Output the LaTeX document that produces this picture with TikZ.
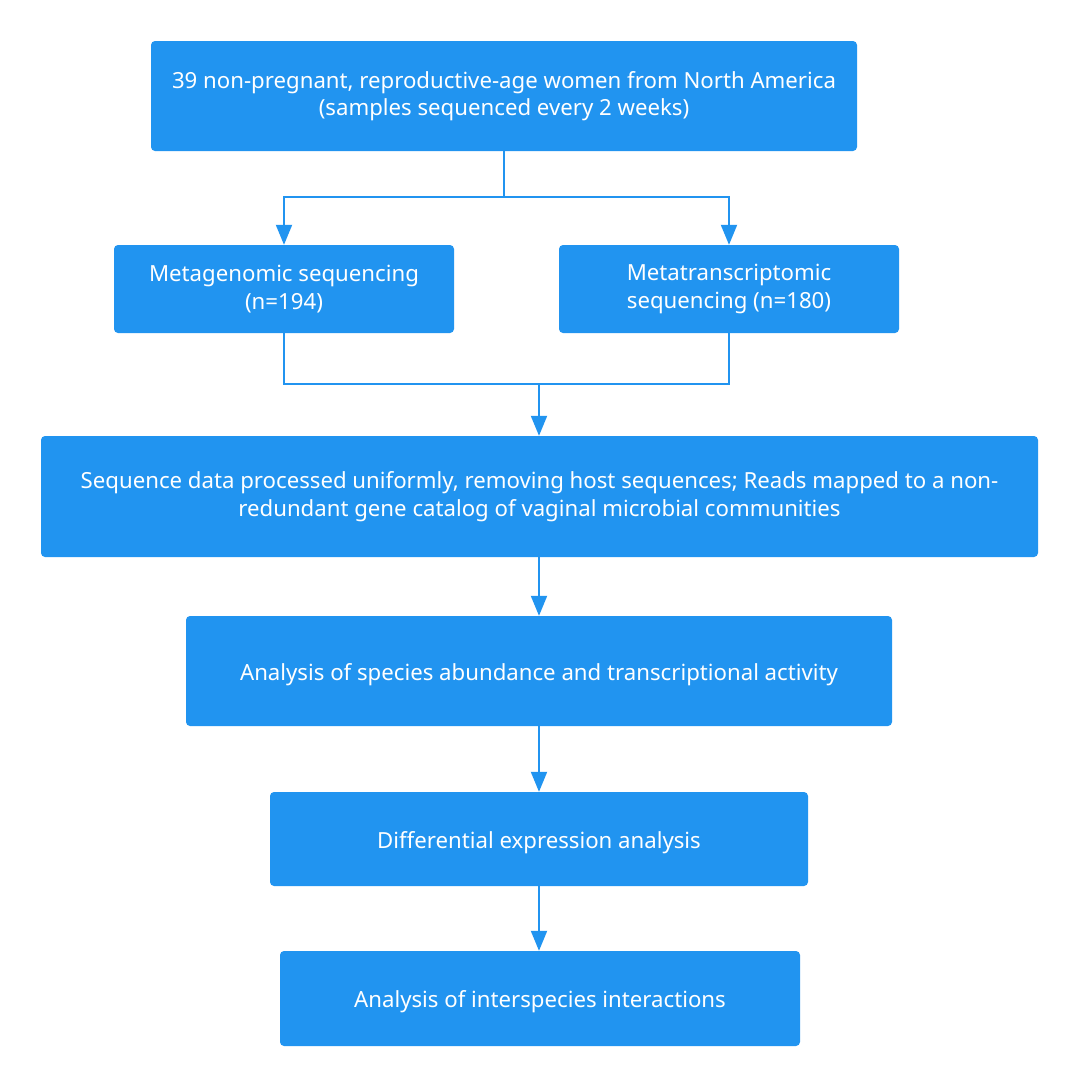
\documentclass[tikz,border=0pt]{standalone}
\usepackage{fontspec}
\setmainfont{Noto Sans}
\usetikzlibrary{arrows.meta}
\definecolor{bl}{RGB}{33,148,240}
\begin{document}
\begin{tikzpicture}[x=1pt,y=-1pt,
  box/.style={draw=none,fill=bl,rounded corners=4pt,text=white,align=center,
    font=\fontsize{22.2}{27.5}\selectfont,inner sep=0pt},
  onebox/.style={box,text height=23pt,text depth=5pt},
  conn/.style={draw=bl,line width=2pt},
  arr/.style={conn,-{Triangle[length=20pt,width=16pt]}}]
\useasboundingbox (0,0) rectangle (1079,1088);
\fill[white] (0,0) rectangle (1079,1088);
\node[box,minimum width=706pt,minimum height=110pt] (top) at (504,96)
  {39 non-pregnant, reproductive-age women from North America\\(samples sequenced every 2 weeks)};
\node[box,minimum width=340pt,minimum height=88pt] (mg) at (284,289)
  {Metagenomic sequencing\\(n=194)};
\node[box,minimum width=340pt,minimum height=88pt] (mt) at (729,289)
  {Metatranscriptomic\\sequencing (n=180)};
\node[box,minimum width=997pt,minimum height=121pt] (seq) at (539.5,496.5)
  {Sequence data processed uniformly, removing host sequences; Reads mapped to a non-\\redundant gene catalog of vaginal microbial communities};
\node[onebox,minimum width=706pt,minimum height=110pt] (ana) at (539,671)
  {Analysis of species abundance and transcriptional activity};
\node[onebox,minimum width=538pt,minimum height=94pt] (dif) at (539,839)
  {Differential expression analysis};
\node[onebox,minimum width=520pt,minimum height=95pt] (int) at (540,998.5)
  {Analysis of interspecies interactions};
\coordinate (j1) at (504,197);
\coordinate (j2) at (539,384);
\draw[conn] (top.south) -- (j1);
\draw[arr] (j1) -| (mg.north);
\draw[arr] (j1) -| (mt.north);
\draw[conn] (mg.south) |- (j2);
\draw[conn] (mt.south) |- (j2);
\draw[arr] (j2) -- (j2 |- seq.north);
\draw[arr] (j2 |- seq.south) -- (j2 |- ana.north);
\draw[arr] (ana.south) -- (ana.south |- dif.north);
\draw[arr] (dif.south) -- (dif.south |- int.north);
\end{tikzpicture}
\end{document}
